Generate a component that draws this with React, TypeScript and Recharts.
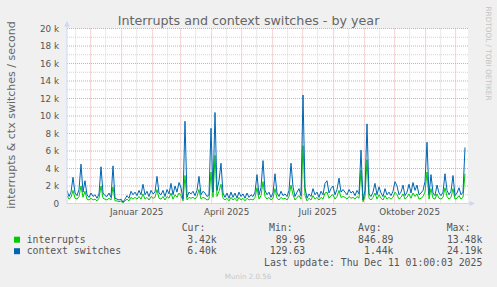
import React from 'react';
import { ComposedChart, Line, XAxis, YAxis, ReferenceLine, ReferenceArea } from 'recharts';

// left edge of the plot, one point every 2 days
const START = Date.UTC(2024, 10, 7, 8);
const STEP_DAYS = 2;
const DOMAIN_DAYS = 401;

// context switches / second, in thousands
const CONTEXT_SWITCHES = [
  1.5, 0.8, 1.3, 3.0, 1.2, 0.9, 1.6, 4.5, 1.3, 2.6,
  1.0, 0.7, 1.2, 0.8, 1.0, 0.6, 1.1, 4.2, 1.2, 0.9,
  0.8, 1.2, 0.7, 4.3, 0.6, 0.5, 0.4, 0.5, 0.15, 0.5,
  0.9, 0.6, 1.4, 1.0, 1.3, 0.9, 1.5, 1.0, 2.2, 1.0,
  1.4, 0.8, 1.5, 1.1, 1.3, 3.1, 1.2, 1.0, 1.5, 0.8,
  1.6, 1.1, 2.3, 1.0, 2.0, 1.3, 2.4, 1.8, 0.5, 9.4,
  0.7, 1.3, 1.1, 1.4, 0.9, 1.5, 3.1, 1.0, 1.4, 1.2,
  0.8, 1.0, 8.6, 1.3, 10.4, 1.5, 2.6, 4.6, 1.2, 0.7,
  1.2, 0.6, 1.3, 0.7, 1.2, 0.6, 1.3, 0.8, 1.1, 0.6,
  1.2, 0.7, 1.0, 0.8, 1.3, 3.3, 1.0, 1.8, 4.9, 1.5,
  1.0, 1.3, 0.7, 1.2, 3.4, 1.2, 0.8, 1.4, 0.9, 1.1,
  0.8, 1.5, 4.6, 1.9, 0.8, 1.3, 1.7, 0.9, 12.4, 1.8,
  0.6, 1.1, 0.8, 1.7, 1.0, 1.3, 0.7, 1.4, 1.0, 2.3,
  2.6, 1.2, 1.7, 2.0, 1.0, 1.6, 2.9, 1.3, 1.6, 1.3,
  1.0, 1.6, 1.2, 1.4, 0.9, 1.5, 1.1, 6.1, 0.4, 1.5,
  9.1, 1.1, 0.8, 1.3, 2.3, 1.0, 1.9, 1.2, 0.8, 1.7,
  1.0, 1.3, 0.9, 1.4, 2.5, 2.0, 1.0, 1.3, 2.1, 0.9,
  1.3, 2.2, 1.2, 2.4, 1.5, 2.1, 1.0, 1.2, 1.5, 2.5,
  7.0, 1.0, 3.3, 1.2, 0.9, 2.1, 1.2, 0.9, 1.3, 3.4,
  1.5, 1.0, 1.4, 3.2, 0.9, 1.2, 1.8, 1.0, 1.3, 6.4,
];

// interrupts / second, in thousands
const INTERRUPTS = [
  0.9, 0.5, 0.7, 1.5, 0.6, 0.5, 0.8, 2.0, 0.7, 1.4,
  0.5, 0.4, 0.6, 0.4, 0.5, 0.3, 0.6, 2.0, 0.6, 0.5,
  0.4, 0.6, 0.4, 1.9, 0.3, 0.3, 0.2, 0.3, 0.09, 0.3,
  0.5, 0.3, 0.7, 0.5, 0.7, 0.5, 0.8, 0.5, 1.1, 0.5,
  0.7, 0.4, 0.8, 0.6, 0.7, 1.6, 0.6, 0.5, 0.8, 0.4,
  0.8, 0.6, 1.2, 0.5, 1.0, 0.7, 1.2, 0.9, 0.3, 3.2,
  0.4, 0.7, 0.6, 0.7, 0.5, 0.8, 1.6, 0.5, 0.7, 0.6,
  0.4, 0.5, 3.6, 0.7, 5.5, 0.8, 1.4, 2.2, 0.6, 0.4,
  0.6, 0.3, 0.7, 0.4, 0.6, 0.3, 0.7, 0.4, 0.6, 0.3,
  0.6, 0.4, 0.5, 0.4, 0.7, 1.8, 0.5, 0.9, 2.5, 0.8,
  0.5, 0.7, 0.4, 0.6, 1.7, 0.6, 0.4, 0.7, 0.5, 0.6,
  0.4, 0.8, 2.1, 1.0, 0.4, 0.7, 0.9, 0.5, 6.6, 0.9,
  0.3, 0.6, 0.4, 0.9, 0.5, 0.7, 0.4, 0.7, 0.5, 1.2,
  1.3, 0.6, 0.9, 1.0, 0.5, 0.8, 1.5, 0.7, 0.8, 0.7,
  0.5, 0.8, 0.6, 0.7, 0.5, 0.8, 0.6, 3.8, 0.2, 0.8,
  5.0, 0.6, 0.4, 0.7, 1.2, 0.5, 1.0, 0.6, 0.4, 0.9,
  0.5, 0.7, 0.5, 0.7, 1.3, 1.0, 0.5, 0.7, 1.1, 0.5,
  0.7, 1.1, 0.6, 1.2, 0.8, 1.1, 0.5, 0.6, 0.8, 1.3,
  3.6, 0.5, 1.7, 0.6, 0.5, 1.1, 0.6, 0.5, 0.7, 1.8,
  0.8, 0.5, 0.7, 1.7, 0.5, 0.6, 0.9, 0.5, 0.7, 3.4,
];

const MONTH_STARTS = [
  '2024-12-01', '2025-01-01', '2025-02-01', '2025-03-01', '2025-04-01', '2025-05-01', '2025-06-01',
  '2025-07-01', '2025-08-01', '2025-09-01', '2025-10-01', '2025-11-01', '2025-12-01',
];
const MID_MONTHS = [
  '2024-11-16', '2024-12-16', '2025-01-16', '2025-02-16', '2025-03-16', '2025-04-16', '2025-05-16',
  '2025-06-16', '2025-07-16', '2025-08-16', '2025-09-16', '2025-10-16', '2025-11-16',
];
const LABEL_DATES = ['2025-01-16', '2025-04-16', '2025-07-16', '2025-10-16'];
const LABEL_TEXTS = ['Januar 2025', 'April 2025', 'Juli 2025', 'Oktober 2025'];

const Y_MAJOR = [0, 2, 4, 6, 8, 10, 12, 14, 16, 18, 20];
const Y_MINOR = [1, 3, 5, 7, 9, 11, 13, 15, 17, 19];

const SERIES_NAMES = ['interrupts', 'context switches'];
const SERIES_COLORS = ['#00CC00', '#0066B3'];
const CUR = ['3.42k', '6.40k'];
const MIN = ['89.96 ', '129.63 '];
const AVG = ['846.89 ', '1.44k'];
const MAX = ['13.48k', '24.19k'];

const dayOf = (d: string) => (Date.parse(d + 'T00:00:00Z') - START) / 86400000;
const MAJOR_DAYS = MONTH_STARTS.map(dayOf);
const MINOR_DAYS = MID_MONTHS.map(dayOf);
const LABEL_DAYS = LABEL_DATES.map(dayOf);

const data = CONTEXT_SWITCHES.map((cs, i) => ({
  day: i * STEP_DAYS,
  cs,
  irq: INTERRUPTS[i],
}));

const W = 497;
const H = 287;
const PLOT_LEFT = 67;
const PLOT_RIGHT = 468;
const PLOT_TOP = 28.5;
const PLOT_BOTTOM = 203.5;
const Y_AXIS_W = 40;
const X_AXIS_H = 20;

const FONT = "'DejaVu Sans', sans-serif";
const MONO = "'DejaVu Sans Mono', monospace";
const AXIS = '#CFD6F8';
const GRID = '#d2d2d2';
const MGRID = '#e9a3a3';

export default function App() {
  const legendRows = [242.5, 254];
  return (
    <div style={{ position: 'absolute', left: 0, top: 0, width: W, height: H, background: '#F0F0F0' }}>
      <ComposedChart
        width={W}
        height={H}
        data={data}
        margin={{
          top: PLOT_TOP,
          right: W - PLOT_RIGHT,
          bottom: H - PLOT_BOTTOM - X_AXIS_H,
          left: PLOT_LEFT - Y_AXIS_W,
        }}
      >
        <XAxis
          dataKey="day"
          type="number"
          domain={[0, DOMAIN_DAYS]}
          allowDataOverflow
          ticks={LABEL_DAYS}
          interval={0}
          tickFormatter={(v: number) => LABEL_TEXTS[LABEL_DAYS.indexOf(v)]}
          height={X_AXIS_H}
          axisLine={{ stroke: AXIS }}
          tickLine={false}
          tickSize={4}
          tickMargin={1}
          tick={{ fontSize: 8.8, fill: '#555', fontFamily: FONT }}
        />
        <YAxis
          type="number"
          domain={[0, 20]}
          ticks={Y_MAJOR}
          interval={0}
          tickFormatter={(v: number) => (v === 0 ? '0' : `${v} k`)}
          width={Y_AXIS_W}
          axisLine={{ stroke: AXIS }}
          tickLine={false}
          tickSize={3}
          tickMargin={5}
          tick={{ fontSize: 8.8, fill: '#555', fontFamily: FONT }}
        />
        <ReferenceArea x1={0} x2={DOMAIN_DAYS} y1={0} y2={20} fill="#ffffff" fillOpacity={1} stroke="none" />
        {Y_MINOR.map((v) => (
          <ReferenceLine key={'ym' + v} y={v} stroke={GRID} strokeDasharray="1 1" />
        ))}
        {MINOR_DAYS.map((d) => (
          <ReferenceLine key={'xm' + d} x={d} stroke={GRID} strokeDasharray="1 1" />
        ))}
        {Y_MAJOR.filter((v) => v > 0).map((v) => (
          <ReferenceLine key={'yM' + v} y={v} stroke={MGRID} strokeDasharray="1 1" />
        ))}
        {MAJOR_DAYS.map((d) => (
          <ReferenceLine key={'xM' + d} x={d} stroke={MGRID} strokeDasharray="1 1" />
        ))}
        <Line
          dataKey="irq"
          type="linear"
          stroke={SERIES_COLORS[0]}
          strokeWidth={1}
          dot={false}
          isAnimationActive={false}
        />
        <Line
          dataKey="cs"
          type="linear"
          stroke={SERIES_COLORS[1]}
          strokeWidth={1}
          dot={false}
          isAnimationActive={false}
        />
      </ComposedChart>

      <svg
        width={W}
        height={H}
        style={{ position: 'absolute', left: 0, top: 0, pointerEvents: 'none' }}
      >
        {/* axis arrows */}
        <line x1={PLOT_LEFT} y1={25} x2={PLOT_LEFT} y2={PLOT_TOP} stroke={AXIS} />
        <polygon points={`${PLOT_LEFT},21 ${PLOT_LEFT - 2.8},26.5 ${PLOT_LEFT + 2.8},26.5`} fill={AXIS} />
        <line x1={PLOT_RIGHT} y1={PLOT_BOTTOM} x2={471} y2={PLOT_BOTTOM} stroke={AXIS} />
        <polygon
          points={`475,${PLOT_BOTTOM} 469.5,${PLOT_BOTTOM - 2.8} 469.5,${PLOT_BOTTOM + 2.8}`}
          fill={AXIS}
        />

        <text x={248.5} y={25} textAnchor="middle" fontFamily={FONT} fontSize={12.7} fill="#666">
          Interrupts and context switches - by year
        </text>
        <text
          x={14.5}
          y={115}
          textAnchor="middle"
          fontFamily={FONT}
          fontSize={11}
          fill="#666"
          transform="rotate(-90 14.5 115)"
        >
          interrupts &amp; ctx switches / second
        </text>
        <text
          x={486}
          y={53.5}
          textAnchor="middle"
          fontFamily={FONT}
          fontSize={7.3}
          fill="#c4c4c4"
          transform="rotate(90 486 53.5)"
        >
          RRDTOOL / TOBI OETIKER
        </text>

        <g fontFamily={MONO} fontSize={9.8} fill="#555" style={{ whiteSpace: 'pre' }}>
          <text x={181.7} y={230.5}>Cur:</text>
          <text x={269} y={230.5}>Min:</text>
          <text x={358} y={230.5}>Avg:</text>
          <text x={446.7} y={230.5}>Max:</text>
          {SERIES_NAMES.map((name, i) => (
            <g key={name}>
              <rect x={14} y={legendRows[i] - 5.8} width={6} height={6} fill={SERIES_COLORS[i]} />
              <text x={26.7} y={legendRows[i]}>{name}</text>
              <text x={216.7} y={legendRows[i]} textAnchor="end">{CUR[i]}</text>
              <text x={305.2} y={legendRows[i]} textAnchor="end">{MIN[i]}</text>
              <text x={393.5} y={legendRows[i]} textAnchor="end">{AVG[i]}</text>
              <text x={482.3} y={legendRows[i]} textAnchor="end">{MAX[i]}</text>
            </g>
          ))}
          <text x={482.3} y={266} textAnchor="end">Last update: Thu Dec 11 01:00:03 2025</text>
        </g>
        <text x={248} y={278.5} textAnchor="middle" fontFamily={FONT} fontSize={7.1} fill="#c8c8c8">
          Munin 2.0.56
        </text>
      </svg>
    </div>
  );
}
